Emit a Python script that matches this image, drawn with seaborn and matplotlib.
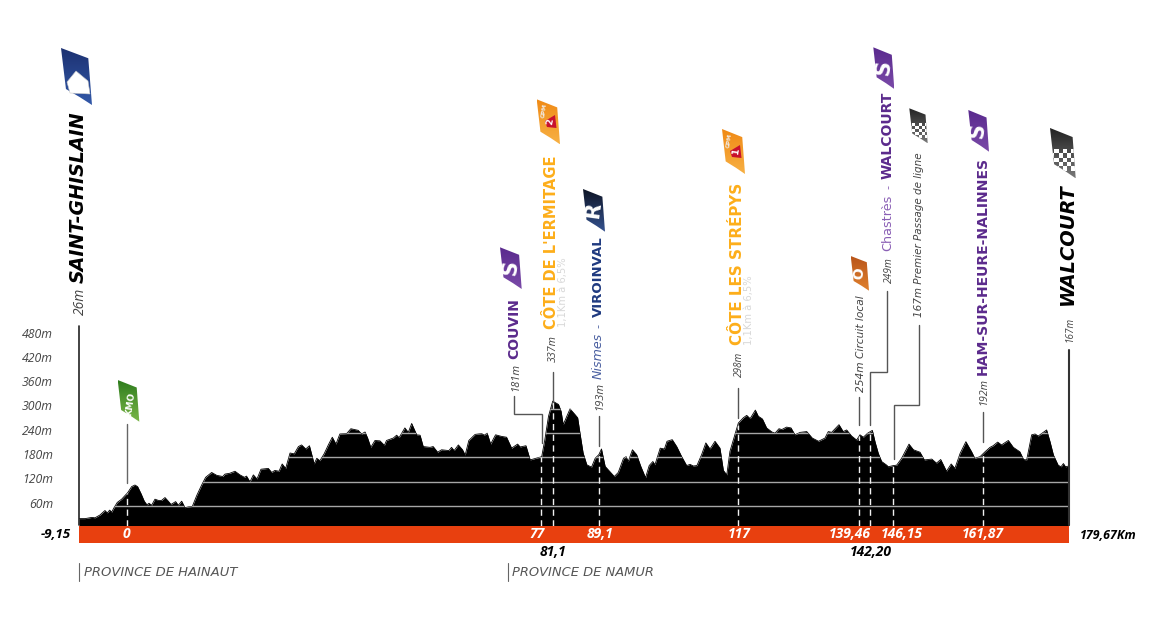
import numpy as np
import matplotlib
matplotlib.use('Agg')
import matplotlib.pyplot as plt
import seaborn as sns
from matplotlib.colors import LinearSegmentedColormap
from matplotlib.patches import Polygon, Rectangle
from matplotlib.transforms import Affine2D

# profil de l'etape (km, altitude en m)
profile_km = [-9.15, -8.0, -6.7, -6.1, -5.15, -4.2, -3.75, -3.3, -2.93, -2.42, -1.85, -1.02, 0.13, 0.89, 1.52,
              2.03, 2.67, 3.3, 3.81, 4.2, 4.7, 5.34, 5.98, 6.6, 7.25, 7.88, 8.39, 9.28, 9.79, 10.43,
              11.06, 11.7, 12.46, 13.3, 14.24, 15.0, 16.15, 17.1, 18.25, 18.7, 19.6, 20.6, 21.55, 22.4, 22.8,
              23.46, 24.1, 24.8, 25.56, 26.96, 27.6, 28.2, 29.0, 29.6, 30.26, 31.1, 31.9, 32.7, 33.3, 34.1,
              34.8, 35.35, 35.7, 36.2, 36.8, 37.6, 38.4, 39.16, 39.86, 40.6, 41.9, 42.7, 44.1, 44.75, 45.4,
              45.9, 46.5, 47.3, 48.25, 49.1, 49.5, 50.8, 51.43, 51.9, 53.0, 53.66, 54.3, 55.25, 55.9, 56.5,
              57.8, 58.4, 59.25, 60.0, 61.4, 61.9, 62.4, 63.2, 64.0, 64.5, 65.2, 66.4, 67.64, 68.15, 68.7,
              69.36, 70.3, 71.46, 72.4, 73.36, 74.5, 75.0, 76.1, 76.9, 79.1, 79.7, 80.4, 81.2, 82.3, 82.8,
              83.2, 84.5, 85.45, 85.96, 86.4, 87.0, 87.7, 88.6, 89.3, 90.0, 90.5, 91.2, 92.1, 92.95, 93.7,
              94.7, 95.2, 95.6, 96.4, 97.2, 98.0, 98.9, 99.6, 100.3, 100.7, 101.7, 102.5, 103.0, 104.0, 104.85,
              105.8, 106.75, 107.4, 108.0, 108.7, 109.6, 110.4, 111.2, 112.15, 113.1, 113.75, 114.4, 115.0, 115.85, 116.6,
              117.55, 118.2, 118.85, 119.85, 120.4, 121.2, 122.0, 123.0, 123.6, 124.35, 124.9, 125.8, 126.65, 127.4, 128.4,
              129.65, 130.7, 131.9, 133.13, 133.76, 134.4, 135.8, 136.6, 137.26, 138.2, 139.17, 139.8, 140.44, 141.27, 142.16,
              142.67, 143.3, 143.94, 144.9, 145.2, 146.16, 146.8, 147.75, 148.4, 149.15, 150.0, 151.25, 152.08, 153.5, 154.4,
              155.2, 156.3, 157.2, 157.9, 158.9, 160.0, 161.1, 161.7, 162.7, 163.65, 164.6, 165.2, 166.06, 166.8, 168.1,
              169.05, 170.3, 171.0, 171.6, 172.55, 173.2, 173.8, 175.4, 176.05, 176.7, 177.6, 178.15, 178.6, 179.0, 179.67]
profile_m = [29, 29, 32, 31, 38, 49, 43, 50, 45, 57, 69, 77, 93, 108, 112,
             108, 91, 72, 63, 67, 62, 77, 74, 74, 81, 72, 64, 71, 62, 72,
             56, 58, 59, 86, 112, 131, 143, 136, 133, 139, 141, 146, 137, 131, 134,
             120, 137, 127, 151, 153, 143, 148, 146, 164, 153, 191, 189, 207, 211, 201,
             209, 182, 164, 178, 172, 189, 211, 230, 213, 238, 239, 251, 247, 238, 243,
             228, 205, 222, 221, 210, 222, 228, 235, 229, 253, 242, 264, 236, 235, 207,
             205, 207, 193, 199, 197, 205, 197, 211, 199, 186, 222, 237, 239, 235, 240,
             213, 236, 232, 230, 203, 213, 206, 209, 174, 182, 224, 282, 319, 311, 294,
             261, 300, 286, 278, 240, 191, 162, 156, 178, 187, 201, 158, 145, 133, 143,
             178, 182, 170, 199, 187, 158, 130, 160, 170, 162, 203, 201, 220, 224, 207,
             182, 160, 163, 159, 160, 187, 216, 201, 220, 203, 148, 137, 195, 232, 265,
             278, 284, 276, 297, 282, 275, 253, 243, 240, 251, 249, 255, 253, 236, 242,
             244, 228, 220, 228, 244, 242, 261, 244, 248, 233, 223, 236, 230, 240, 247,
             219, 190, 170, 161, 157, 160, 161, 178, 194, 213, 199, 193, 174, 176, 166,
             175, 146, 164, 153, 190, 219, 194, 178, 182, 194, 205, 209, 218, 211, 222,
             205, 194, 175, 174, 236, 238, 233, 248, 219, 186, 161, 157, 165, 157, 159]

grid_m = [60, 120, 180, 240, 300]
tick_m = [60, 120, 180, 240, 300, 360, 420, 480]
tick_labels = ['60m', '120m', '180m', '240m', '300m', '360m', '420m', '480m']

# passages : position sur le profil et etiquette
pass_km = [0.0, 79.05, 81.2, 90.0, 116.5, 139.6, 141.7, 146.1, 163.3]
pass_labels = ['0', '77', '81,1', '89,1', '117', '139,46', '142,20', '146,15', '161,87']

BASE_M = 12
BAND_M = -30
ORANGE = '#e8400f'
PURPLE = '#5b2a8c'
GOLD = '#fdae1a'
WIDE = 'DejaVu Sans'
NARROW = 'Open Sans'

sns.set_theme(style='white')
fig = plt.figure(figsize=(11.6, 6.28), dpi=100)
ax = fig.add_axes([79 / 1160, (628 - 525.5) / 628, 990 / 1160, 189.5 / 628])
ax.set_autoscale_on(False)
ax.set_xlim(-9.15, 179.67)
ax.set_ylim(BASE_M, 480)
sns.despine(ax=ax, left=True, bottom=True)

# pixels de l'image, origine en haut a gauche
px = Affine2D().scale(1, -1).translate(0, 628)
renderer = fig.canvas.get_renderer()

fill = ax.fill_between(profile_km, profile_m, BASE_M, color='black', lw=0, zorder=2)
sns.lineplot(x=profile_km, y=profile_m, color='black', lw=0.6, ax=ax, zorder=2, sort=False, estimator=None)
clip = fill.get_paths()[0]

for m in grid_m:
    ln = ax.axhline(m, color='#a6a6a6', lw=1.0, zorder=3)
    ln.set_clip_path(clip, ax.transData)

ax.axhspan(BAND_M, BASE_M, color=ORANGE, lw=0, zorder=4, clip_on=False)

tops = np.interp(pass_km, profile_km, profile_m)
for km, top in zip(pass_km, tops):
    ax.plot([km, km], [BASE_M, top], color='#f0f0f0', lw=1.0, ls=(0, (4.5, 3.2)), zorder=5)

ax.set_yticks(tick_m, tick_labels)
ax.set_xticks([])
ax.tick_params(axis='y', length=0, pad=18.7, labelsize=8.8, labelcolor='#444444')
for lab in ax.get_yticklabels():
    lab.set_family(NARROW)
    lab.set_style('italic')
    lab.set_transform(lab.get_transform() + Affine2D().translate(0, 3.5))

# decalages des etiquettes de km (x, y) en pixels
offsets = [(-1, -8.5), (-4, -8.5), (0, -26.5), (1, -8.5), (1, -8.5), (-9, -8.5), (1, -26.5), (9, -8.5), (0, -8.5)]
for km, lab, (dx, dy) in zip(pass_km, pass_labels, offsets):
    ax.annotate(lab, (km, BASE_M), xytext=(dx, dy), textcoords='offset pixels', ha='center', va='center',
                color='white' if dy > -20 else 'black', fontsize=10, fontweight='bold', style='italic',
                family=NARROW, zorder=6, annotation_clip=False)


def fit(s, x, a, b, color, weight='normal', style='italic', family=WIDE, vertical=True):
    """texte cale entre a et b (pixels), vertical ou horizontal"""
    t = ax.text(x, a, s, transform=px, rotation=90, rotation_mode='anchor', ha='left', va='baseline',
                color=color, fontweight=weight, style=style, family=family, fontsize=10, zorder=8)
    if not vertical:
        t.set_rotation(0)
        t.set_position((a, x))
    ext = t.get_window_extent(renderer)
    size = ext.height if vertical else ext.width
    t.set_fontsize(10 * abs(b - a) / size)
    return t


def leader(xs, ys, color='#555555', lw=1.0):
    ax.plot(xs, ys, color=color, lw=lw, transform=px, clip_on=False, zorder=7, solid_joinstyle='miter')


# lignes de rappel
leader([79, 79], [326, 525], '#222222', 1.2)
leader([1069, 1069], [350, 525], '#333333', 1.5)
leader([127, 127], [424, 483], '#666666')
leader([514.3, 514.3, 541.7, 541.7], [396, 414.3, 414.3, 443])
leader([552.7, 552.7], [372, 402])
leader([599, 599], [416, 446])
leader([738, 738], [388, 418])
leader([858.7, 858.7], [397, 425])
leader([886.7, 886.7, 870, 870], [291, 371.7, 371.7, 425])
leader([918.7, 918.7, 894, 894], [325, 404.5, 404.5, 459])
leader([983.3, 983.3], [412, 442])
leader([79, 79], [563, 581], '#666666', 0.8)
leader([507.7, 507.7], [563, 581], '#666666', 0.8)

# textes verticaux : texte, ligne de base, bas, haut, couleur, graisse, style, police
labels = [
    ('SAINT-GHISLAIN', 84, 283, 111, 'black', 'bold', 'italic', WIDE),
    ('26m', 84, 315, 288, '#444444', 'normal', 'italic', NARROW),
    ('181m', 518, 391, 363, '#444444', 'normal', 'italic', NARROW),
    ('COUVIN', 518.3, 359, 298, PURPLE, 'bold', 'normal', WIDE),
    ('337m', 556, 361.7, 335, '#444444', 'normal', 'italic', NARROW),
    ("CÔTE DE L'ERMITAGE", 556, 329, 155, GOLD, 'bold', 'normal', WIDE),
    ('1,1Km à 6,5%', 566, 327, 257, '#d8d8d8', 'normal', 'normal', WIDE),
    ('193m', 602.7, 410, 382, '#444444', 'normal', 'italic', NARROW),
    ('Nismes', 602, 379, 332.7, '#4a5fa0', 'normal', 'italic', WIDE),
    ('-', 602, 328, 324, '#4a5fa0', 'normal', 'normal', WIDE),
    ('VIROINVAL', 602, 317, 236, '#1f3a80', 'bold', 'normal', WIDE),
    ('298m', 741.7, 377, 351.7, '#444444', 'normal', 'italic', NARROW),
    ('CÔTE LES STRÉPYS', 741.7, 345, 182, GOLD, 'bold', 'normal', WIDE),
    ('1,1Km à 6,5%', 751.7, 345, 275, '#d8d8d8', 'normal', 'normal', WIDE),
    ('254m Circuit local', 864, 392, 295, '#444444', 'normal', 'italic', WIDE),
    ('249m', 891.7, 283, 257, '#444444', 'normal', 'italic', NARROW),
    ('Chastrès', 891.7, 250.7, 195, '#8a5fb5', 'normal', 'normal', WIDE),
    ('-', 891.7, 189, 185, '#8a5fb5', 'normal', 'normal', WIDE),
    ('WALCOURT', 891.7, 179, 91.7, PURPLE, 'bold', 'normal', WIDE),
    ('167m Premier Passage de ligne', 921.7, 316.7, 152.7, '#444444', 'normal', 'italic', WIDE),
    ('192m', 986.7, 405, 378, '#444444', 'normal', 'italic', NARROW),
    ('HAM-SUR-HEURE-NALINNES', 986.7, 375, 156, PURPLE, 'bold', 'normal', WIDE),
    ('167m', 1073, 341.7, 316.7, '#444444', 'normal', 'italic', NARROW),
    ('WALCOURT', 1073, 305, 184, 'black', 'bold', 'italic', WIDE),
]
for s, x, lo, hi, col, wgt, sty, fam in labels:
    fit(s, x, lo, hi, col, wgt, sty, fam)

# textes horizontaux
fit('PROVINCE DE HAINAUT', 576, 84, 237, '#555555', vertical=False)
fit('PROVINCE DE NAMUR', 576, 512, 654, '#555555', vertical=False)
fit('-9,15', 538, 41, 71, 'black', 'bold', family=NARROW, vertical=False)
fit('179,67Km', 539, 1080, 1136, 'black', 'bold', family=NARROW, vertical=False)


def flag(x0, y0, x1, y1, c_top, c_bot, mark=None, size=11, mark_xy=(0.47, 0.5)):
    w, h = x1 - x0, y1 - y0
    pts = [(x0, y0), (x0 + .88 * w, y0 + .18 * h), (x1, y1), (x0 + .6 * w, y0 + .86 * h), (x0 + .16 * w, y0 + .72 * h)]
    poly = Polygon(pts, closed=True, transform=px, fc='none', ec='none')
    cmap = LinearSegmentedColormap.from_list('f', [c_top, c_bot])
    im = ax.imshow(np.linspace(0, 1, 32)[:, None], extent=(x0, x1, y1, y0), cmap=cmap, aspect='auto',
                   transform=px, zorder=7)
    im.set_clip_box(fig.bbox)
    im.set_clip_path(poly)
    if mark:
        ax.text(x0 + mark_xy[0] * w, y0 + mark_xy[1] * h, mark, transform=px, rotation=82, ha='center', va='center',
                color='white', fontweight='bold', family=WIDE, fontsize=size, zorder=8)
    return poly


def patch(pts, fc, ec='none'):
    ax.add_patch(Polygon(pts, transform=px, fc=fc, ec=ec, lw=0.4, zorder=8, clip_on=False))


def checker(x0, y0, x1, y1, poly, cols=6):
    # damier du bas des drapeaux d'arrivee
    w, h = x1 - x0, y1 - y0
    s = w / cols
    for i in range(cols):
        for j in range(5):
            if (i + j) % 2 == 0:
                continue
            r = Rectangle((x0 + i * s, y0 + .42 * h + j * s), s, s, fc='white', ec='none', transform=px, zorder=8)
            ax.add_patch(r)
            r.set_clip_box(fig.bbox)
            r.set_clip_path(poly)


flag(61, 48, 92, 105, '#1d3272', '#3258a8')
patch([(67, 82), (76, 71), (88, 81), (90, 94), (70, 93)], 'white', '#c8c8c8')
flag(117.7, 380, 139.3, 421.7, '#2f7d1e', '#7ab648', 'KMO', 6.5, (0.6, 0.58))
flag(500, 247.3, 521.7, 289, '#5a2a8e', '#7a4aa8', 'S', 15)
flag(536.7, 99.3, 560, 144.3, '#f08a16', '#f7b043')
patch([(545, 121), (555, 115), (556.5, 128), (547, 127)], '#c8102e')
ax.text(550.5, 121.5, '2', transform=px, rotation=82, ha='center', va='center', color='white', fontweight='bold', family=WIDE, fontsize=6.5, zorder=9)
ax.text(544, 110, 'GPM', transform=px, rotation=82, ha='center', va='center', color='#eeeeee', fontweight='bold', family=WIDE, fontsize=4.2, zorder=9)
flag(583, 189, 605, 231.7, '#0e1526', '#35528f', 'R', 15)
flag(722, 129, 745, 174, '#f08a16', '#f7b043')
patch([(730, 151), (740, 145), (741.5, 158), (732, 157)], '#c8102e')
ax.text(735.5, 151.5, '1', transform=px, rotation=82, ha='center', va='center', color='white', fontweight='bold', family=WIDE, fontsize=6.5, zorder=9)
ax.text(729, 140, 'GPM', transform=px, rotation=82, ha='center', va='center', color='#eeeeee', fontweight='bold', family=WIDE, fontsize=4.2, zorder=9)
flag(850.7, 256, 869, 290.7, '#b9551a', '#e0812e', 'O', 10)
flag(873.3, 47.3, 894.3, 89, '#5a2a8e', '#7a4aa8', 'S', 15)
p = flag(909.3, 108.3, 927.7, 143.3, '#222222', '#777777')
checker(909.3, 108.3, 927.7, 143.3, p)
flag(968.3, 110, 989, 151.7, '#5a2a8e', '#7a4aa8', 'S', 15)
p = flag(1050, 128, 1075.7, 178.3, '#222222', '#777777')
checker(1050, 128, 1075.7, 178.3, p)

ax.set_xlim(-9.15, 179.67)
ax.set_ylim(BASE_M, 480)
fig.savefig('out.png', dpi=100, facecolor='white')
